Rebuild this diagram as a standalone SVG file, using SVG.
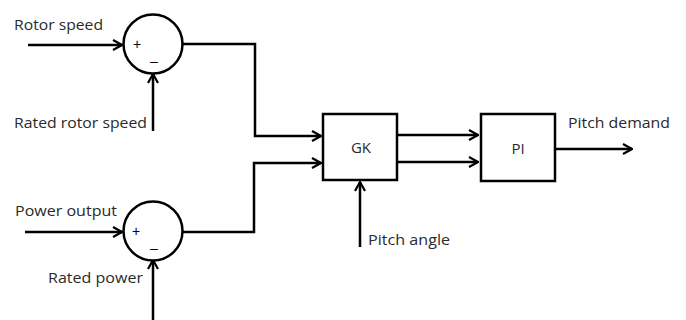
<svg xmlns="http://www.w3.org/2000/svg" width="686" height="320" viewBox="0 0 686 320">
<defs>
<marker id="arr" viewBox="0 0 12 12" refX="11" refY="6" markerWidth="12" markerHeight="12" markerUnits="userSpaceOnUse" orient="auto">
<path d="M2,1 L11,6 L2,11" fill="none" stroke="#000" stroke-width="2.2" stroke-linejoin="miter"/>
</marker>
<style>
.ln{fill:none;stroke:#000;stroke-width:2.5}
.ar{marker-end:url(#arr)}
.nd{fill:#fff;stroke:#000;stroke-width:2.5}
.t{font-family:"Open Sans","Liberation Sans",sans-serif;font-size:15px;fill:#2a2a2a}
.s{font-family:"Liberation Sans",sans-serif;font-size:14px;fill:#000}
</style>
</defs>
<rect width="686" height="320" fill="#fff"/>
<g id="connectors">
<path class="ln ar" d="M28,45 H122"/>
<path class="ln ar" d="M153,131 V74"/>
<path class="ln ar" d="M183,44 H255 V136 H321"/>
<path class="ln ar" d="M25,232 H122"/>
<path class="ln ar" d="M153,320 V260"/>
<path class="ln ar" d="M183,232 H254 V163 H321"/>
<path class="ln ar" d="M360,247 V182"/>
<path class="ln ar" d="M397,135 H478"/>
<path class="ln ar" d="M397,162 H478"/>
<path class="ln ar" d="M555,149 H632"/>
</g>
<g id="sum1">
<circle class="nd" cx="153" cy="44" r="29.5"/>
<text class="s" x="137" y="49" text-anchor="middle">+</text>
<text class="s" x="154" y="66" text-anchor="middle">–</text>
</g>
<g id="sum2">
<circle class="nd" cx="153" cy="231" r="29.5"/>
<text class="s" x="136" y="236" text-anchor="middle">+</text>
<text class="s" x="154" y="253" text-anchor="middle">–</text>
</g>
<g id="gk">
<rect class="nd" x="323" y="114" width="74" height="66"/>
<text class="t" x="361" y="153" text-anchor="middle">GK</text>
</g>
<g id="pi">
<rect class="nd" x="481" y="114" width="74" height="67"/>
<text class="t" x="518" y="154" text-anchor="middle">PI</text>
</g>
<g id="labels">
<text class="t" x="14" y="30" textLength="89" lengthAdjust="spacingAndGlyphs">Rotor speed</text>
<text class="t" x="14" y="128" textLength="133" lengthAdjust="spacingAndGlyphs">Rated rotor speed</text>
<text class="t" x="15" y="216" textLength="102" lengthAdjust="spacingAndGlyphs">Power output</text>
<text class="t" x="48" y="283" textLength="95" lengthAdjust="spacingAndGlyphs">Rated power</text>
<text class="t" x="368" y="245" textLength="82" lengthAdjust="spacingAndGlyphs">Pitch angle</text>
<text class="t" x="568" y="128" textLength="102" lengthAdjust="spacingAndGlyphs">Pitch demand</text>
</g>
</svg>
